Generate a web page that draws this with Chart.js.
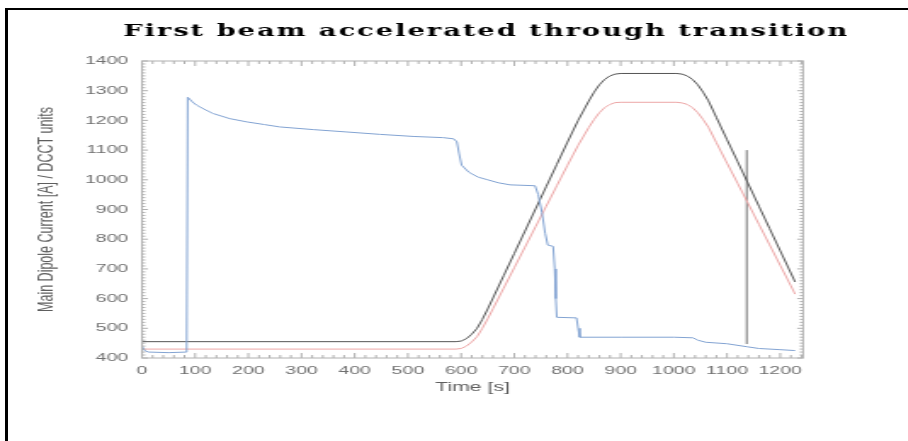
<!DOCTYPE html>
<html>
<head>
<meta charset="utf-8">
<title>First beam accelerated through transition</title>
<script src="https://cdn.jsdelivr.net/npm/chart.js@4"></script>
<style>
  html, body { margin: 0; padding: 0; background: #fff; overflow: hidden; }
  #frame {
    position: absolute; left: 5px; top: 8px; width: 920px; height: 450px;
    border-left: 3px solid #000; border-top: 2px solid #000;
  }
  /* the plot is drawn narrow and stretched sideways, like the original printout */
  #plot { position: absolute; left: 0; top: 0; transform-origin: 0 0; transform: scaleX(1.7); }
</style>
</head>
<body>
<div id="frame"></div>
<canvas id="plot" width="534" height="441"></canvas>
<script>
"use strict";

const titleText = "First beam accelerated through transition";

// beam intensity (DCCT)
const dcctTime = [0, 5, 12, 50, 84, 86, 95, 103, 120, 134, 165, 197, 230, 259, 322, 385, 447, 510, 566, 586,
  592, 596, 601, 615, 632, 650, 670, 692, 739, 745, 752, 758, 763, 773, 776, 778, 780, 817, 820, 823,
  900, 1000, 1036, 1045, 1060, 1100, 1137, 1160, 1200, 1228];
const dcctUnits = [440, 425, 420, 418, 420, 1278, 1262, 1251, 1235, 1223, 1206, 1195, 1186, 1178, 1169, 1161, 1153, 1146, 1142, 1138,
  1128, 1090, 1049, 1025, 1009, 1000, 990, 983, 980, 950, 890, 820, 780, 776, 700, 600, 537, 535, 500, 470,
  470, 470, 468, 460, 453, 448, 438, 432, 428, 425];

// main dipole ramp, measured and reference
const rampTime = [0, 590, 600, 610, 620, 630, 640, 650, 660, 680, 700, 720, 740, 760, 780, 800, 820, 840, 850, 860,
  870, 880, 890, 900, 1005, 1015, 1025, 1035, 1045, 1055, 1065, 1080, 1100, 1120, 1140, 1160, 1180, 1200, 1220, 1228];
const dipoleCurrent = [455, 455, 457, 465, 480, 500, 530, 565, 602, 677, 752, 827, 902, 977, 1052, 1127, 1200, 1265, 1295, 1320,
  1338, 1350, 1356, 1358, 1358, 1356, 1350, 1338, 1320, 1295, 1266, 1210, 1135, 1061, 986, 911, 836, 761, 686, 656];
const dipoleRef = [430, 430, 432, 440, 454, 472, 500, 532, 566, 635, 704, 773, 842, 911, 980, 1049, 1116, 1176, 1203, 1226,
  1243, 1254, 1260, 1261, 1261, 1259, 1254, 1243, 1226, 1203, 1177, 1125, 1056, 988, 919, 850, 781, 712, 643, 615];

// transition marker
const markerTime = [1137, 1137];
const markerUnits = [447, 1100];

const xMin = 0, xMax = 1243;
const yMin = 400, yMax = 1400;

function pairs(xs, ys) {
  return xs.map((x, i) => ({ x: x, y: ys[i] }));
}

function series(data, color) {
  return {
    data: data,
    borderColor: color,
    borderWidth: 1,
    pointRadius: 0,
    showLine: true,
    fill: false,
    tension: 0,
  };
}

// boxed frame with inward ticks on all four sides
const boxTicks = {
  id: "boxTicks",
  afterDatasetsDraw(chart) {
    const { ctx, chartArea: a, scales } = chart;
    const x = scales.x, y = scales.y;
    ctx.save();
    ctx.strokeStyle = "#b0b0b0";
    ctx.lineWidth = 1;
    ctx.strokeRect(a.left, a.top, a.right - a.left, a.bottom - a.top);
    ctx.beginPath();
    for (let t = xMin; t <= xMax; t += 20) {
      const px = x.getPixelForValue(t);
      const len = t % 100 === 0 ? 5 : 3;
      ctx.moveTo(px, a.bottom); ctx.lineTo(px, a.bottom - len);
      ctx.moveTo(px, a.top); ctx.lineTo(px, a.top + len);
    }
    for (let v = yMin; v <= yMax; v += 10) {
      const py = y.getPixelForValue(v);
      const len = v % 100 === 0 ? 3.5 : 2;
      ctx.moveTo(a.left, py); ctx.lineTo(a.left + len, py);
      ctx.moveTo(a.right, py); ctx.lineTo(a.right - len, py);
    }
    ctx.stroke();
    ctx.restore();
  }
};

// heavy spaced-out heading
const heading = {
  id: "heading",
  afterDraw(chart) {
    const ctx = chart.ctx;
    ctx.save();
    ctx.font = "bold 16px 'DejaVu Serif'";
    const w0 = ctx.measureText(titleText).width;
    const spacing = Math.max(0, (427 - w0) / titleText.length);
    if ("letterSpacing" in ctx) ctx.letterSpacing = spacing.toFixed(2) + "px";
    ctx.fillStyle = "#000";
    ctx.textAlign = "center";
    ctx.textBaseline = "middle";
    ctx.fillText(titleText, 286, 32);
    ctx.restore();
  }
};

const tickFont = { family: "'Liberation Sans', Arial, sans-serif", size: 11.5 };
const axisFont = { family: "'Liberation Sans', Arial, sans-serif", size: 12.5 };
const plainNumber = (v) => String(v);

new Chart(document.getElementById("plot").getContext("2d"), {
  type: "scatter",
  data: {
    datasets: [
      series(pairs(dcctTime, dcctUnits), "#82a3d2"),
      series(pairs(rampTime, dipoleCurrent), "#555555"),
      series(pairs(rampTime, dipoleRef), "#eca6a6"),
      series(pairs(markerTime, markerUnits), "#727272"),
    ],
  },
  options: {
    responsive: false,
    animation: false,
    devicePixelRatio: 1,
    layout: { padding: { left: 0, right: 61.6, top: 61, bottom: 33 } },
    plugins: {
      legend: { display: false },
      title: { display: false },
      tooltip: { enabled: false },
    },
    scales: {
      x: {
        type: "linear",
        min: xMin,
        max: xMax,
        grid: { display: false, drawTicks: false },
        border: { display: false },
        ticks: {
          stepSize: 100,
          includeBounds: false,
          autoSkip: false,
          maxRotation: 0,
          padding: 6,
          color: "#707070",
          font: tickFont,
          callback: plainNumber,
        },
        title: {
          display: true,
          text: "Time [s]",
          color: "#5e5e5e",
          font: axisFont,
          padding: { top: 0, bottom: 12.5 },
        },
        afterFit(scale) { scale.height = 50; },
      },
      y: {
        type: "linear",
        min: yMin,
        max: yMax,
        grid: { display: false, drawTicks: false },
        border: { display: false },
        ticks: {
          stepSize: 100,
          includeBounds: false,
          padding: 8,
          color: "#707070",
          font: tickFont,
          callback: plainNumber,
        },
        title: {
          display: true,
          text: "Main Dipole Current [A] / DCCT units",
          color: "#5e5e5e",
          font: axisFont,
          padding: { top: 20.5, bottom: 0 },
        },
        afterFit(scale) { scale.width = 83.5; },
      },
    },
  },
  plugins: [boxTicks, heading],
});
</script>
</body>
</html>
